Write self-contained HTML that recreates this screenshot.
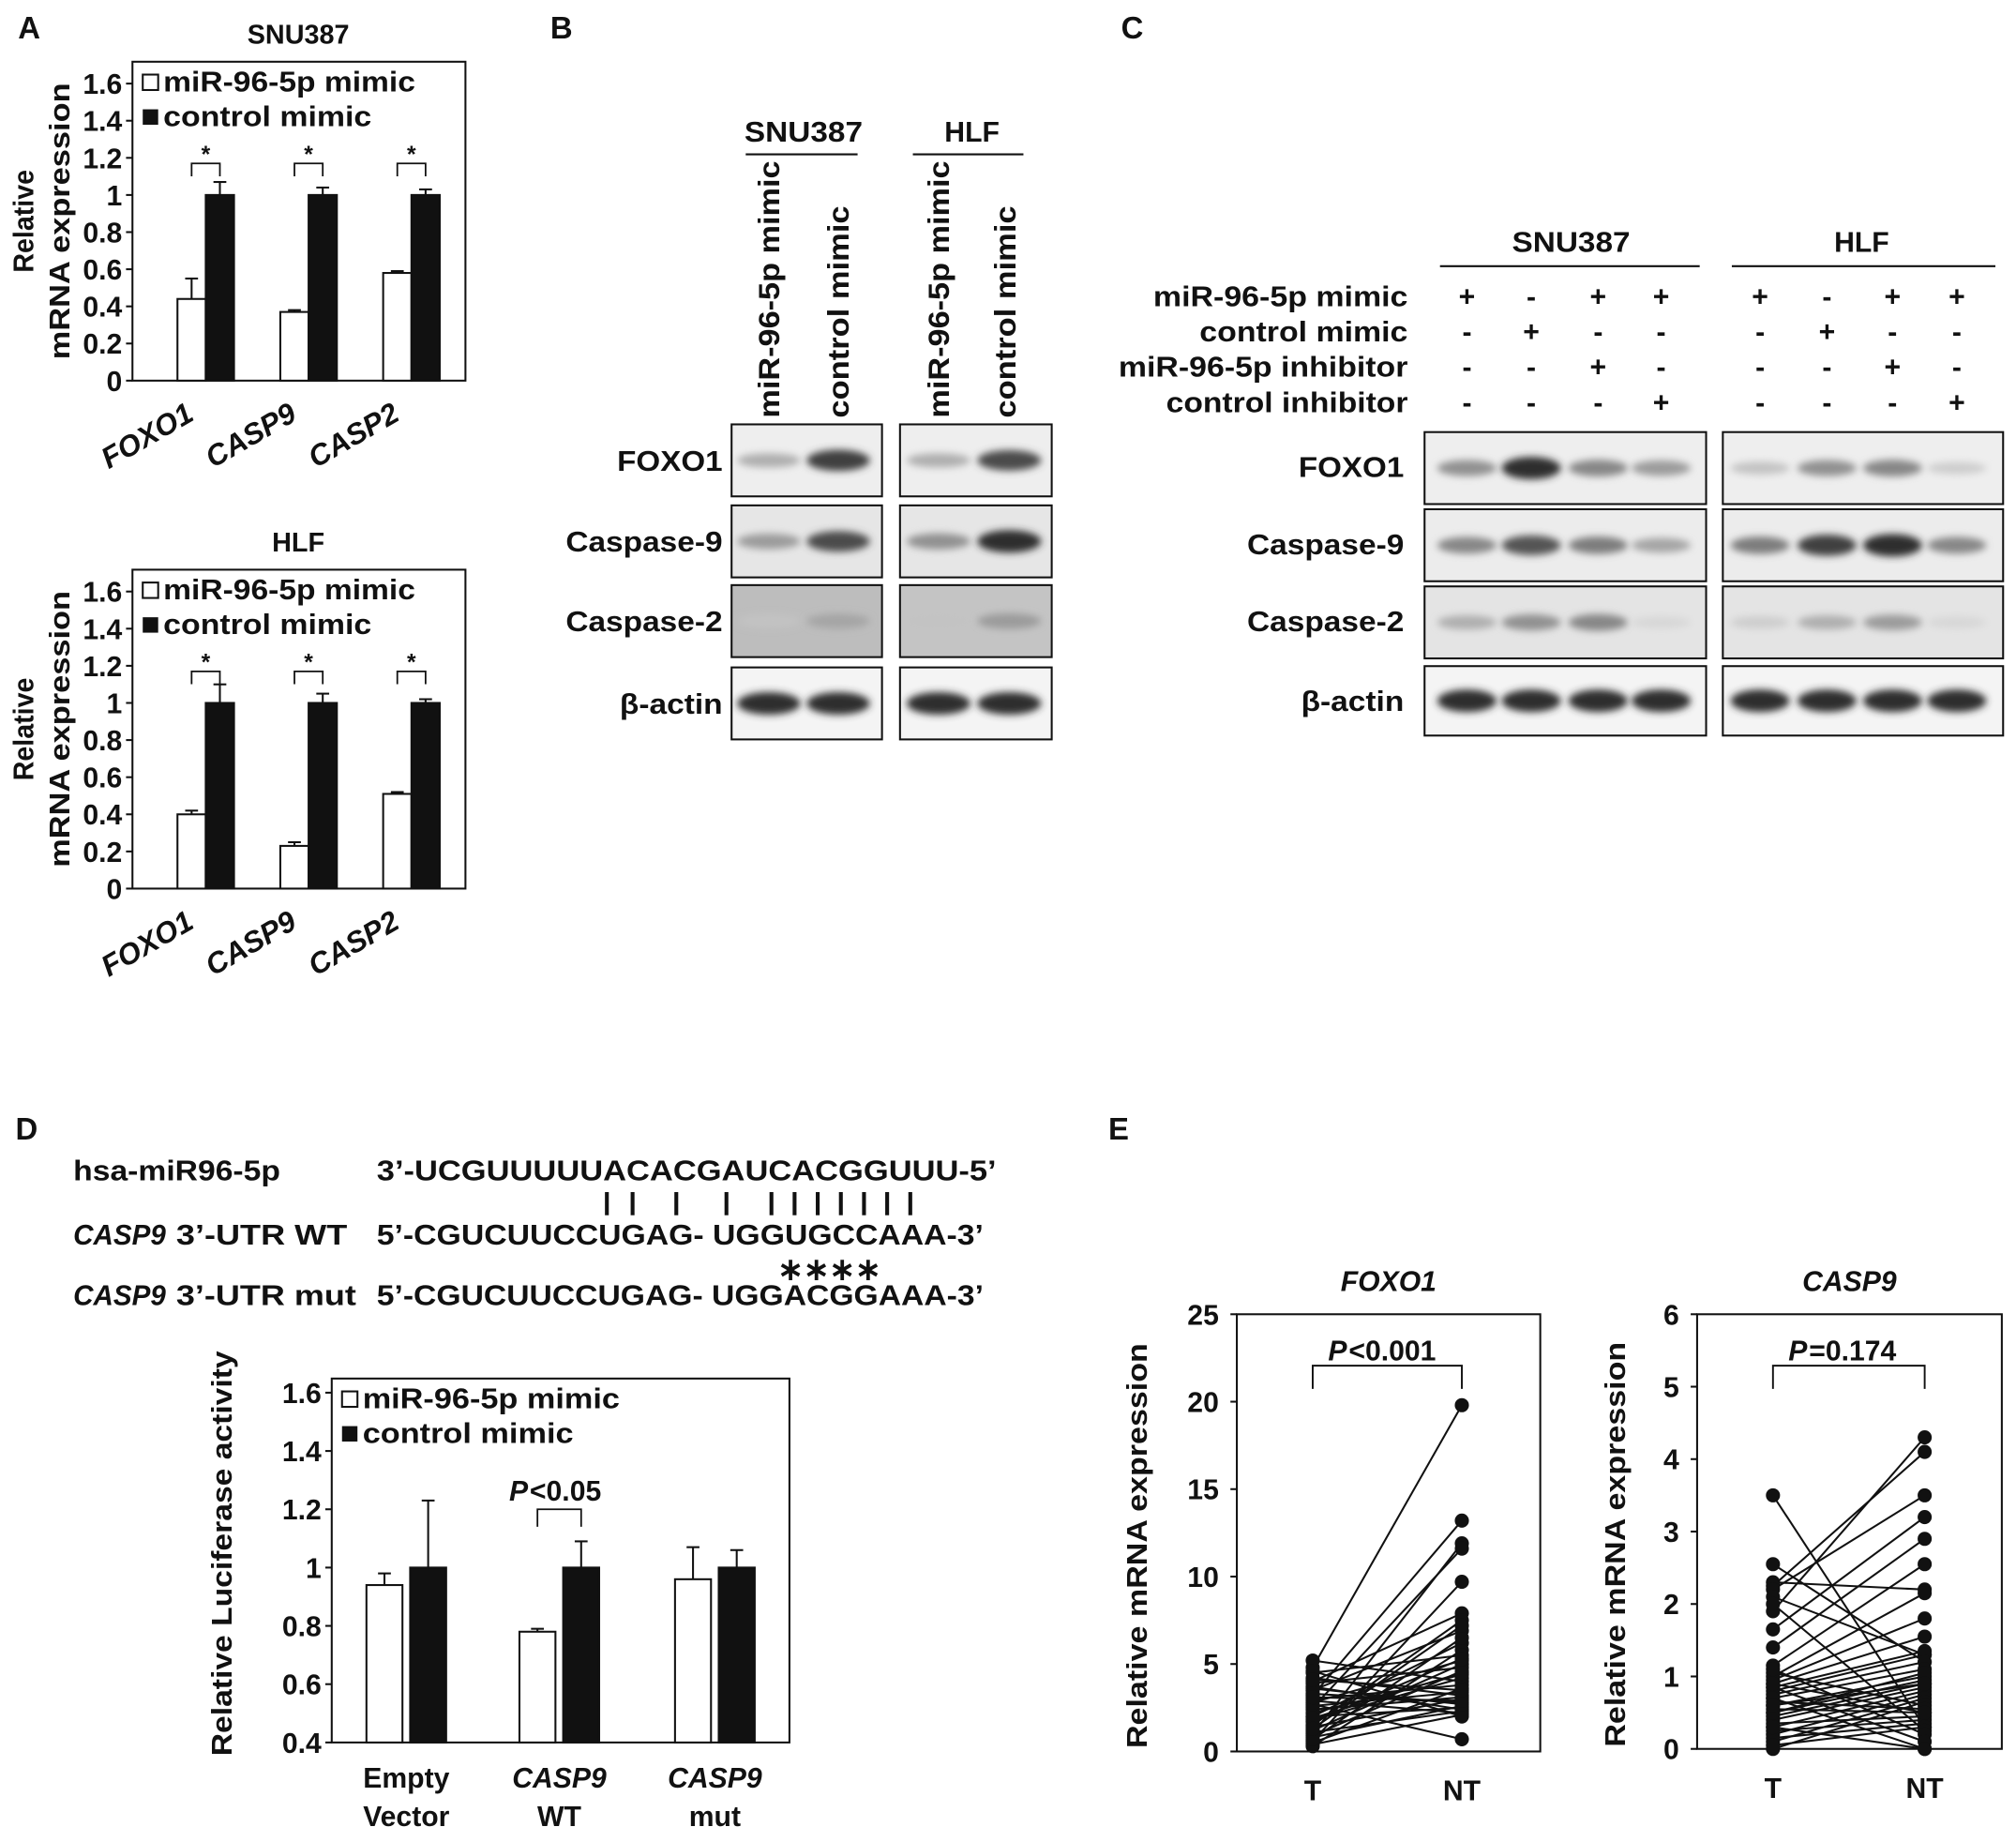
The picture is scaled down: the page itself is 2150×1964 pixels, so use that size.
<!DOCTYPE html>
<html><head><meta charset="utf-8"><style>
html,body{margin:0;padding:0;background:#fff}
svg{display:block}
text{font-family:"Liberation Sans",sans-serif;font-weight:bold;fill:#111}
</style></head><body>
<svg id="fig" width="2150" height="1964" viewBox="0 0 1568 1432.4" xmlns="http://www.w3.org/2000/svg">
<defs><filter id="blur" x="-30%" y="-100%" width="160%" height="300%"><feGaussianBlur stdDeviation="3"/></filter></defs>
<g id="root"></g>
</svg>
<script>
// ---- data ----
const barCats=["FOXO1","CASP9","CASP2"];
const snuMimic=[0.44,0.37,0.58], snuMimicErr=[0.11,0.01,0.01];
const snuCtrl=[1.0,1.0,1.0], snuCtrlErr=[0.07,0.04,0.03];
const hlfMimic=[0.40,0.23,0.51], hlfMimicErr=[0.02,0.02,0.01];
const hlfCtrl=[1.0,1.0,1.0], hlfCtrlErr=[0.10,0.05,0.02];
const barTicks=["0","0.2","0.4","0.6","0.8","1","1.2","1.4","1.6"];
const lucCats=[["Empty","Vector"],["CASP9","WT"],["CASP9","mut"]];
const lucMimic=[0.94,0.78,0.96], lucMimicErr=[0.04,0.01,0.11];
const lucCtrl=[1.0,1.0,1.0], lucCtrlErr=[0.23,0.09,0.06];
const lucTicks=["0.4","0.6","0.8","1","1.2","1.4","1.6"];
const foxT=[4.8,3.2,1.0,2.5,0.6,4.0,1.5,3.5,2.0,0.3,4.5,2.8,1.2,3.9,0.9,2.2,1.8,5.2,3.0,0.5,2.6,4.2,1.4,3.3,0.8,2.0,3.7,1.1,2.9,0.4,4.6,1.7,2.4,3.6,0.7,1.9,2.7,3.1,4.1,1.3];
const foxNT=[19.8,13.2,11.9,11.6,9.7,7.9,7.5,6.9,6.2,5.8,5.5,5.2,5.0,4.8,4.6,4.4,4.2,4.0,3.8,3.6,3.4,3.2,3.0,2.8,2.6,2.5,2.4,2.3,2.2,2.1,2.0,5.3,3.1,2.7,6.5,4.5,0.7,2.9,3.5,7.2];
const foxTicks=["0","5","10","15","20","25"];
const casT=[3.5,2.55,2.3,2.25,2.2,2.1,1.9,1.65,1.4,1.15,1.0,0.95,0.9,0.85,0.8,0.75,0.7,0.6,0.5,0.45,0.4,0.3,0.2,0.1,0.0,1.05,0.65,0.55,0.35,0.25,0.15,0.05,2.0,1.1,0.85,0.7,0.5,0.3,0.9,0.6];
const casNT=[0.3,1.2,2.2,4.1,3.5,1.3,4.3,3.2,2.9,2.55,2.15,1.8,1.55,1.35,1.3,1.2,1.1,1.0,0.95,0.9,0.85,0.8,0.75,0.7,0.65,0.6,0.55,0.5,0.45,0.4,0.35,0.3,0.25,0.2,0.1,0.0,1.05,0.0,0.5,0.9];
const casTicks=["0","1","2","3","4","5","6"];

const NS="http://www.w3.org/2000/svg";
const root=document.getElementById('root');
function mk(tag,attrs,parent,txt){const e=document.createElementNS(NS,tag);for(const k in attrs)e.setAttribute(k,attrs[k]);if(txt!==undefined)e.textContent=txt;(parent||root).appendChild(e);return e;}
function T(x,y,s,size,anchor,parent,extra,len){const a=Object.assign({x:x,y:y,'font-size':size||22,'text-anchor':anchor||'start'},extra||{});if(len){a.textLength=len;a.lengthAdjust='spacingAndGlyphs';}return mk('text',a,parent,s);}

[["A",14,30],["B",428,30],["C",872,30],["D",12,886],["E",862,886]].forEach(p=>{
 const e=T(p[1],p[2],p[0],24);
 
 
});

function barChart(cfg){
 const g=mk('g',{});
 
 
 const y=v=>cfg.y0-(v-cfg.vmin)/(cfg.vmax-cfg.vmin)*(cfg.y0-cfg.y1);
 mk('rect',{x:cfg.bx,y:cfg.by,width:cfg.bw,height:cfg.y0-cfg.by,fill:'none',stroke:'#111','stroke-width':1.5},g);
 cfg.ticks.forEach(t=>{const yy=y(parseFloat(t));
  mk('line',{x1:cfg.bx-5,x2:cfg.bx,y1:yy,y2:yy,stroke:'#111','stroke-width':1.5},g);
  const l=T(cfg.bx-8,yy+8,t,22,'end',g);
  
  
 });
 cfg.a.forEach((v,i)=>{
  const cx=cfg.gx[i];
  [[cfg.a,cfg.ae,'#fff',cx-cfg.w-cfg.gap/2,'bar-mimic'],[cfg.b,cfg.be,'#111',cx+cfg.gap/2,'bar-control']].forEach(s=>{
   const val=s[0][i],err=s[1][i];
   const r=mk('rect',{x:s[3],y:y(val),width:cfg.w,height:cfg.y0-y(val),fill:s[2],stroke:'#111','stroke-width':1.5},g);
   
   
   const mx=s[3]+cfg.w/2;
   mk('line',{x1:mx,x2:mx,y1:y(val),y2:y(val+err),stroke:'#111','stroke-width':1.5},g);
   mk('line',{x1:mx-5,x2:mx+5,y1:y(val+err),y2:y(val+err),stroke:'#111','stroke-width':1.5},g);
  });
  if(cfg.star){const x1=cx-cfg.w/2-cfg.gap/2,x2=cx+cfg.w/2+cfg.gap/2,yy=y(1.17);
   mk('path',{d:`M${x1} ${yy+10}V${yy}H${x2}V${yy+10}`,fill:'none',stroke:'#111','stroke-width':1.3},g);
   T(cx,yy-1,'*',18,'middle',g);}
 });
 const lx=cfg.bx+8, ly=cfg.by+10;
 mk('rect',{x:lx,y:ly,width:12,height:12,fill:'#fff',stroke:'#111','stroke-width':1.5},g);
 T(lx+16,ly+13,'miR-96-5p mimic',22,'start',g,{},cfg.l1);
 mk('rect',{x:lx,y:ly+27,width:12,height:12,fill:'#111'},g);
 T(lx+16,ly+40,'control mimic',22,'start',g,{},cfg.l2);
 return {g:g,y:y};
}
function aPanel(name,by,y0,title,m,me,c,ce){
 const r=barChart({name:name,bx:103,by:by,bw:259,y0:y0,y1:by+17,vmin:0,vmax:1.6,ticks:barTicks,gx:[160,240,320],w:22,gap:0,a:m,ae:me,b:c,be:ce,star:true,l1:196,l2:162});
 const g=r.g;
 T(232,by-14,title,21,'middle',g);
 barCats.forEach((c,i)=>{const x=[160,240,320][i];
  const t=T(x-8,y0+30,c,23,'end',g,{'font-style':'italic',transform:`rotate(-30 ${x-8} ${y0+30})`});
  
  
 });
 const mid=(by+y0)/2;
 T(26,mid,'Relative',22,'middle',g,{transform:`rotate(-90 26 ${mid})`},80);
 T(54,mid,'mRNA expression',22,'middle',g,{transform:`rotate(-90 54 ${mid})`},215);
}
aPanel('bar-chart-snu387',48,296,'SNU387',snuMimic,snuMimicErr,snuCtrl,snuCtrlErr);
aPanel('bar-chart-hlf',443,691,'HLF',hlfMimic,hlfMimicErr,hlfCtrl,hlfCtrlErr);

function blot(x,y,w,h,lanes,ints,bg,name){
 const g=mk('g',{});
 
 
 mk('rect',{x:x,y:y,width:w,height:h,fill:bg},g);
 lanes.forEach((lx,i)=>{const v=ints[i];
  const c=Math.round(235-200*v);
  mk('ellipse',{cx:lx,cy:y+h/2,rx:(w/lanes.length)*0.42,ry:4+5*v,fill:`rgb(${c},${c},${c})`,filter:'url(#blur)'},g);
 });
 mk('rect',{x:x,y:y,width:w,height:h,fill:'none',stroke:'#111','stroke-width':1.5},g);
}
const bRows=[["FOXO1",330,82],["Caspase-9",393,122],["Caspase-2",455,122],["β-actin",519,80]];
const bInt=[[[0.3,0.85],[0.3,0.8]],[[0.4,0.8],[0.45,0.95]],[[0.2,0.35],[0.2,0.4]],[[0.95,0.95],[0.95,0.95]]];
const bBg=['#eee','#e6e6e6','#bdbdbd','#f4f4f4'];
bRows.forEach((r,i)=>{
 blot(569,r[1],117,56,[598,652],bInt[i][0],bBg[i],'blot-b-snu387-'+i);
 blot(700,r[1],118,56,[730,785],bInt[i][1],i==2?'#c4c4c4':bBg[i],'blot-b-hlf-'+i);
 T(562,r[1]+36,r[0],22,'end',null,{},r[2]);
});
T(625,110,'SNU387',22,'middle',null,{},92);mk('line',{x1:580,x2:667,y1:120,y2:120,stroke:'#111','stroke-width':1.5});
T(756,110,'HLF',22,'middle');mk('line',{x1:710,x2:796,y1:120,y2:120,stroke:'#111','stroke-width':1.5});
[[606,'miR-96-5p mimic',200],[660,'control mimic',165],[738,'miR-96-5p mimic',200],[790,'control mimic',165]].forEach(p=>{
 T(p[0],325,p[1],23,'start',null,{transform:`rotate(-90 ${p[0]} 325)`},p[2]);
});
T(1222,196,'SNU387',22,'middle',null,{},92);mk('line',{x1:1120,x2:1322,y1:207,y2:207,stroke:'#111','stroke-width':1.5});
T(1448,196,'HLF',22,'middle');mk('line',{x1:1347,x2:1552,y1:207,y2:207,stroke:'#111','stroke-width':1.5});
const cLabels=['miR-96-5p mimic','control mimic','miR-96-5p inhibitor','control inhibitor'];
const cLens=[198,162,225,188];
const cSigns=[['+','-','+','+'],['-','+','-','-'],['-','-','+','-'],['-','-','-','+']];
const cCols=[1141,1191,1243,1292,1369,1421,1472,1522];
cLabels.forEach((l,i)=>{const yy=238+i*27.5;
 T(1095,yy,l,22,'end',null,{},cLens[i]);
 cCols.forEach((cx,j)=>T(cx,yy,cSigns[i][j%4],22,'middle'));
});
const cRows=[["FOXO1",336,82],["Caspase-9",396,122],["Caspase-2",456,122],["β-actin",518,80]];
const cInt=[[[0.45,0.95,0.5,0.4],[0.2,0.45,0.5,0.15]],[[0.5,0.75,0.55,0.35],[0.55,0.85,0.95,0.5]],[[0.3,0.45,0.5,0.1],[0.15,0.3,0.4,0.1]],[[0.95,0.95,0.95,0.95],[0.95,0.95,0.95,0.95]]];
const cBg=['#eee','#ececec','#e4e4e4','#f4f4f4'];
cRows.forEach((r,i)=>{
 blot(1108,r[1],219,i==3?54:56,cCols.slice(0,4),cInt[i][0],cBg[i],'blot-c-snu387-'+i);
 blot(1340,r[1],218,i==3?54:56,cCols.slice(4),cInt[i][1],cBg[i],'blot-c-hlf-'+i);
 T(1092,r[1]+35,r[0],22,'end',null,{},r[2]);
});

// ---- panel D ----
T(57,918,'hsa-miR96-5p',22,'start',null,{'font-weight':'normal'},161);
T(57,968,'CASP9',22,'start',null,{'font-style':'italic'},72);T(137,968,'3’-UTR WT',22,'start',null,{},133);
T(57,1015,'CASP9',22,'start',null,{'font-style':'italic'},72);T(137,1015,'3’-UTR mut',22,'start',null,{},140);
T(293,918,'3’-UCGUUUUUACACGAUCACGGUUU-5’',22,'start',null,{},482);
T(293,968,'5’-CGUCUUCCUGAG- UGGUGCCAAA-3’',22,'start',null,{},472);
T(293,1015,'5’-CGUCUUCCUGAG- UGGACGGAAA-3’',22,'start',null,{},472);
[472,492,526,565,600,618,636,654,672,690,708].forEach(x=>mk('line',{x1:x,x2:x,y1:927,y2:945,stroke:'#111','stroke-width':3}));
T(645,995,'∗∗∗∗',24,'middle',null,{'font-weight':'normal'});
{const r=barChart({name:'bar-chart-luciferase',bx:258,by:1072,bw:356,y0:1355,y1:1083,vmin:0.4,vmax:1.6,ticks:lucTicks,gx:[316,435,556],w:28,gap:6,a:lucMimic,ae:lucMimicErr,b:lucCtrl,be:lucCtrlErr,star:false,l1:200,l2:164});
 const g=r.g;
 mk('path',{d:`M418 ${r.y(1.14)}V${r.y(1.2)}H452V${r.y(1.14)}`,fill:'none',stroke:'#111','stroke-width':1.3},g);
 T(396,1167,'P',22,'start',g,{'font-style':'italic'});T(412,1167,' <0.05',22,'start',g);
 lucCats.forEach((c,i)=>{const x=[316,435,556][i];
  T(x,1390,c[0],22,'middle',g,i>0?{'font-style':'italic'}:{});
  T(x,1420,c[1],22,'middle',g);});
 T(180,1208,'Relative Luciferase activity',22,'middle',g,{transform:'rotate(-90 180 1208)'},315);
}

// ---- panel E ----
function paired(cfg){
 const g=mk('g',{});
 
 
 const y=v=>cfg.y0-v/cfg.vmax*(cfg.y0-cfg.y1);
 mk('rect',{x:cfg.bx,y:cfg.by,width:cfg.bw,height:cfg.y0-cfg.by,fill:'none',stroke:'#111','stroke-width':1.5},g);
 cfg.ticks.forEach(t=>{const yy=y(parseFloat(t));
  mk('line',{x1:cfg.bx-5,x2:cfg.bx,y1:yy,y2:yy,stroke:'#111','stroke-width':1.5},g);
  T(cfg.bx-14,yy+8,t,22,'end',g,{'font-weight':'normal'});});
 cfg.t.forEach((v,i)=>{
  const l=mk('line',{x1:cfg.xt,x2:cfg.xn,y1:y(v),y2:y(cfg.n[i]),stroke:'#111','stroke-width':1.5},g);
  
  
 });
 cfg.t.forEach((v,i)=>{
  const a=mk('circle',{cx:cfg.xt,cy:y(v),r:5.5,fill:'#111'},g);
  
  
  const b=mk('circle',{cx:cfg.xn,cy:y(cfg.n[i]),r:5.5,fill:'#111'},g);
  
  
 });
 const cx=(cfg.bx+cfg.bw/2);
 T(cx,cfg.by-18,cfg.title,22,'middle',g,{'font-style':'italic'});
 mk('path',{d:`M${cfg.xt} ${cfg.by+58}V${cfg.by+40}H${cfg.xn}V${cfg.by+58}`,fill:'none',stroke:'#111','stroke-width':1.4},g);
 T(cfg.xt+12,cfg.by+36,'P',22,'start',g,{'font-style':'italic'});
 T(cfg.xt+28,cfg.by+36,cfg.p,22,'start',g);
 T(cfg.xt,cfg.y0+38,'T',22,'middle',g);T(cfg.xn,cfg.y0+38,'NT',22,'middle',g);
 const mid=(cfg.by+cfg.y0)/2+10;
 T(cfg.tx,mid,'Relative mRNA expression',22,'middle',g,{transform:`rotate(-90 ${cfg.tx} ${mid})`},315);
}
paired({name:'paired-chart-foxo1',bx:962,by:1022,bw:236,y0:1362,y1:1022,vmax:25,ticks:foxTicks,t:foxT,n:foxNT,xt:1021,xn:1137,title:'FOXO1',p:' <0.001',tx:892});
paired({name:'paired-chart-casp9',bx:1320,by:1022,bw:237,y0:1360,y1:1022,vmax:6,ticks:casTicks,t:casT,n:casNT,xt:1379,xn:1497,title:'CASP9',p:' =0.174',tx:1264});
</script>
</body></html>
